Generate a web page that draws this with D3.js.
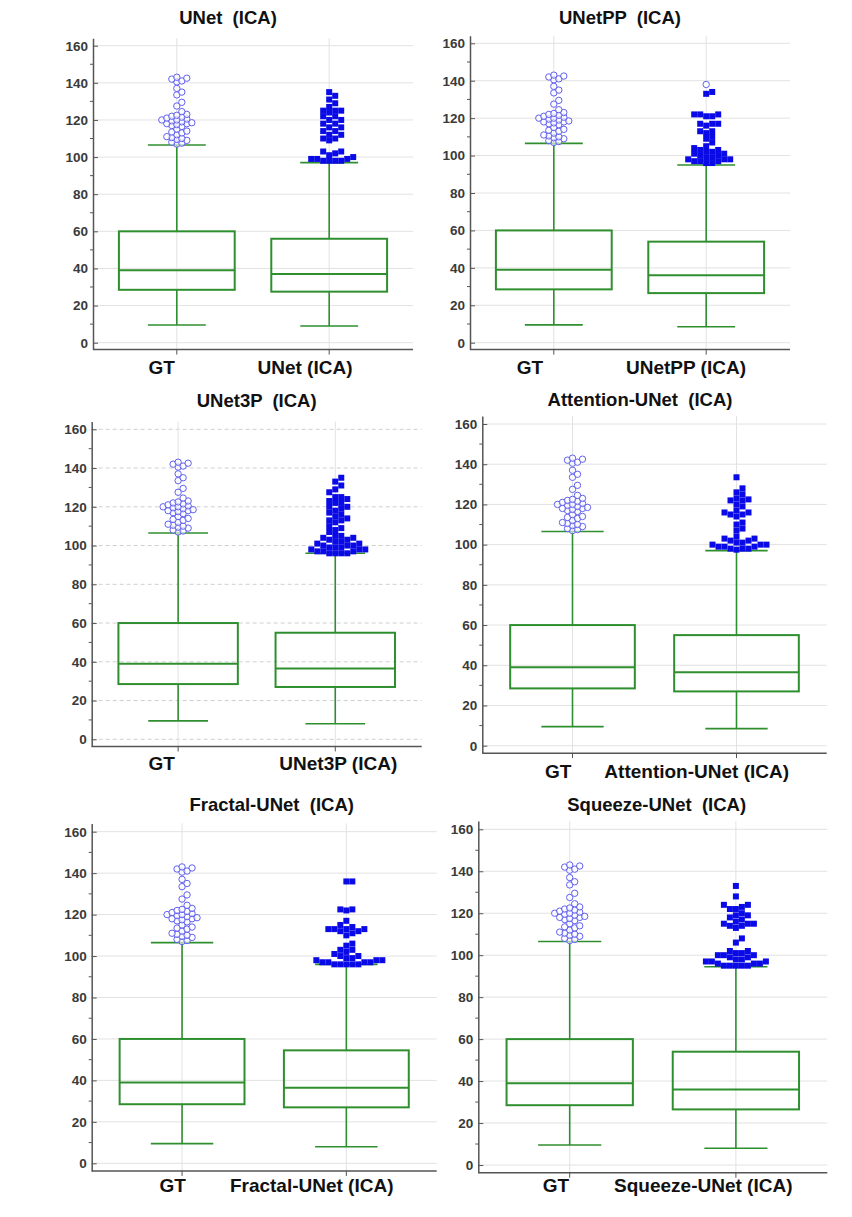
<!DOCTYPE html>
<html>
<head>
<meta charset="utf-8">
<script src="https://cdn.jsdelivr.net/npm/d3@7"></script>
<style>
  body { margin: 0; background: #fff; }
  text { font-family: "Liberation Sans", Arial, sans-serif; }
  .title, .xlab { white-space: pre; font-weight: bold; fill: #111; }
</style>
</head>
<body>
<svg id="chart" width="852" height="1217"></svg>
<script>
var models = ["UNet", "UNetPP", "UNet3P", "Attention-UNet", "Fractal-UNet", "Squeeze-UNet"];
var yTicks = [0, 20, 40, 60, 80, 100, 120, 140, 160];
var yMinor = [10, 30, 50, 70, 90, 110, 130, 150];

// [low whisker, Q1, median, Q3, high whisker]
var gtStats = [9.5, 28.5, 39, 60, 106.5];
var modelStats = [
  [9, 27.5, 37, 56, 97],
  [8.5, 26.5, 36, 54, 95],
  [8, 27, 36.5, 55, 96],
  [8.5, 27, 36.5, 55, 97],
  [8, 27, 36.5, 54.5, 96],
  [8, 26.5, 36, 54, 94.5]
];

var gtOutliers = [143, 142.5, 142, 141, 140.5, 137, 135, 133.5, 129.5, 127.5, 124.5, 123,
  122.5, 122, 121.5, 121, 120.5, 120, 120, 119.5, 119, 118.5, 118, 118, 117.5, 117,
  116.5, 115, 114, 113.5, 113, 112, 111, 110.5, 110, 109.5, 109, 108, 107.5, 107];

var modelOutliers = [
  [135, 133, 131, 129, 127, 125, 125, 125, 124, 122, 122, 120, 120, 118, 118, 116, 116,
   114, 114, 112, 112, 110, 110, 109, 103, 103, 102, 101, 100, 99, 99, 99, 98, 98, 98, 98],
  [134, 133, 122, 122, 122, 121, 121, 117, 117, 117, 116, 113, 113, 112, 110, 109, 107,
   105, 104, 103, 103, 102, 102, 101, 101, 100, 100, 99, 99, 98, 98, 98, 97, 97, 97, 96, 96],
  [135, 133, 131, 129, 127.5, 125, 125, 124, 123, 122, 122, 120, 120, 119, 118, 117, 116,
   115, 114, 113, 113, 112, 110, 109, 108, 107, 105, 105, 104, 104, 103, 103, 102, 102,
   101, 101, 100, 100, 100, 99, 99, 99, 98, 98, 98, 97, 97, 97, 96, 96, 96, 96],
  [133.5, 128, 126, 125, 123, 122.5, 122, 122, 120, 119, 117, 116, 116, 115, 115, 114,
   111, 110, 108, 107, 104, 103, 103, 102, 102, 101, 101, 100, 100, 100, 99, 99, 99,
   98, 98, 98, 97.5],
  [136, 136, 122.5, 122.5, 122, 117, 115, 114, 113, 113, 113, 113, 112, 112, 111, 110,
   106, 105, 103, 103, 102, 101, 100, 100, 99, 99, 98, 98, 98, 97, 97, 97, 97, 96, 96,
   96, 96, 96],
  [133, 128, 124, 124, 123, 122, 122, 120, 119, 119, 118, 117, 116, 115, 115, 115, 114,
   114, 113, 108, 106, 102, 102, 101, 101, 100, 100, 100, 99, 99, 98, 98, 97, 97, 97,
   96, 96, 96, 95, 95, 95, 95, 95]
];
var modelFar = [[], [138], [], [], [], []];

// panel placement on the page
var panels = [
  {x0: 93, x1: 413, y0: 342.7, y160: 45.7, tx: 228, ty: 18, lab: [[161.7, 367], [305, 367]]},
  {x0: 470, x1: 790, y0: 342.7, y160: 43.3, tx: 620, ty: 18, lab: [[530, 367], [686, 367]]},
  {x0: 91.7, x1: 421.7, y0: 739.3, y160: 429.3, tx: 256.7, ty: 401, lab: [[161.7, 763], [338.3, 763]], dashed: true},
  {x0: 482.3, x1: 826.7, y0: 745.7, y160: 424, tx: 640, ty: 400, lab: [[558.3, 771], [696.7, 771]]},
  {x0: 91.7, x1: 436.7, y0: 1163.3, y160: 831.7, tx: 271.7, ty: 805, lab: [[172.7, 1185], [311.7, 1185]]},
  {x0: 478.3, x1: 827.3, y0: 1165, y160: 829.3, tx: 656.7, ty: 805, lab: [[556, 1185], [703.3, 1185]]}
];

var GREEN = "#2f8f2f", AXIS = "#555";
var svg = d3.select("#chart");

// place repeated values side by side in slots so marks don't pile up
function dodge(vals, y, minDy) {
  var placed = [];
  vals.slice().sort(function(a, b) { return a - b; }).forEach(function(v) {
    var py = y(v);
    for (var k = 0; k < 40; k++) {
      var slot = k === 0 ? 0 : (k % 2 ? (k + 1) / 2 : -k / 2);
      var hit = placed.some(function(p) { return p.slot === slot && Math.abs(p.y - py) < minDy; });
      if (!hit) { placed.push({v: v, y: py, slot: slot}); break; }
    }
  });
  return placed;
}

panels.forEach(function(P, i) {
  var name = models[i];
  var ppu = (P.y0 - P.y160) / 160;
  var y = d3.scaleLinear().domain([-3.7, 164]).range([P.y0 + 3.7 * ppu, P.y0 - 164 * ppu]);
  var x = d3.scalePoint().domain(["GT", name]).range([P.x0, P.x1]).padding(0.55);
  var step = x.step();
  var g = svg.append("g").attr("class", "panel p" + i);

  // grid
  g.selectAll(".hgrid").data(yTicks).enter().append("line")
    .attr("x1", P.x0).attr("x2", P.x1)
    .attr("y1", function(d) { return y(d); }).attr("y2", function(d) { return y(d); })
    .attr("stroke", P.dashed ? "#cfcfcf" : "#e2e2e2")
    .attr("stroke-dasharray", P.dashed ? "4,3" : null);
  g.selectAll(".vgrid").data(x.domain()).enter().append("line")
    .attr("x1", function(d) { return x(d); }).attr("x2", function(d) { return x(d); })
    .attr("y1", y(164)).attr("y2", y(-3.7))
    .attr("stroke", "#e2e2e2");

  // y axis
  var ya = g.append("g").attr("transform", "translate(" + P.x0 + ",0)")
    .call(d3.axisLeft(y).tickValues(yTicks).tickSizeInner(-5).tickSizeOuter(0).tickPadding(5));
  ya.select(".domain").attr("stroke", AXIS).attr("stroke-width", 1.5);
  ya.selectAll(".tick line").attr("stroke", AXIS);
  ya.selectAll(".tick text").attr("font-size", 13.5).attr("font-weight", "bold").attr("fill", "#3a3a3a")
    .attr("font-family", "Liberation Sans, Arial, sans-serif");
  g.selectAll(".minor").data(yMinor).enter().append("line")
    .attr("x1", P.x0 - 3).attr("x2", P.x0)
    .attr("y1", function(d) { return y(d); }).attr("y2", function(d) { return y(d); })
    .attr("stroke", AXIS);

  // x axis
  var bottom = y(-3.7);
  g.append("line").attr("x1", P.x0).attr("x2", P.x1).attr("y1", bottom).attr("y2", bottom)
    .attr("stroke", AXIS).attr("stroke-width", 1.5);
  g.selectAll(".xt").data(x.domain()).enter().append("line")
    .attr("x1", function(d) { return x(d); }).attr("x2", function(d) { return x(d); })
    .attr("y1", bottom).attr("y2", bottom + 5).attr("stroke", AXIS);

  // boxes
  var stats = [{k: "GT", s: gtStats}, {k: name, s: modelStats[i]}];
  var bw = step * 0.76, cw = step * 0.38;
  stats.forEach(function(b) {
    var cx = x(b.k), s = b.s;
    g.append("line").attr("x1", cx).attr("x2", cx).attr("y1", y(s[0])).attr("y2", y(s[1]))
      .attr("stroke", GREEN).attr("stroke-width", 1.6);
    g.append("line").attr("x1", cx).attr("x2", cx).attr("y1", y(s[3])).attr("y2", y(s[4]))
      .attr("stroke", GREEN).attr("stroke-width", 1.6);
    [s[0], s[4]].forEach(function(v) {
      g.append("line").attr("x1", cx - cw / 2).attr("x2", cx + cw / 2).attr("y1", y(v)).attr("y2", y(v))
        .attr("stroke", GREEN).attr("stroke-width", 1.6);
    });
    g.append("rect").attr("x", cx - bw / 2).attr("width", bw)
      .attr("y", y(s[3])).attr("height", y(s[1]) - y(s[3]))
      .attr("fill", "none").attr("stroke", GREEN).attr("stroke-width", 2);
    g.append("line").attr("x1", cx - bw / 2).attr("x2", cx + bw / 2).attr("y1", y(s[2])).attr("y2", y(s[2]))
      .attr("stroke", GREEN).attr("stroke-width", 2);
  });

  // GT outliers: open circles, packed tightly
  var r = 3.2;
  g.selectAll(".gto").data(dodge(gtOutliers, y, 4.5)).enter().append("circle")
    .attr("cx", function(d) { return x("GT") + d.slot * 5; })
    .attr("cy", function(d) { return d.y; })
    .attr("r", r).attr("fill", "#fff").attr("fill-opacity", 0.6)
    .attr("stroke", "#6060f0").attr("stroke-width", 1);

  // model outliers: filled squares
  var sz = 6;
  g.selectAll(".mo").data(dodge(modelOutliers[i], y, sz * 0.9)).enter().append("rect")
    .attr("x", function(d) { return x(name) + d.slot * sz - sz / 2; })
    .attr("y", function(d) { return d.y - sz / 2; })
    .attr("width", sz).attr("height", sz).attr("fill", "#0a0ae6");
  g.selectAll(".mf").data(modelFar[i]).enter().append("circle")
    .attr("cx", x(name)).attr("cy", function(d) { return y(d); })
    .attr("r", r).attr("fill", "#fff").attr("stroke", "#6060f0").attr("stroke-width", 1);

  // texts
  g.append("text").attr("class", "title").attr("x", P.tx).attr("y", P.ty).attr("dy", "0.35em")
    .attr("text-anchor", "middle").attr("font-size", 18.5).text(name + "  (ICA)");
  g.selectAll(".xlab").data(x.domain()).enter().append("text").attr("class", "xlab")
    .attr("x", function(d, j) { return P.lab[j][0]; })
    .attr("y", function(d, j) { return P.lab[j][1]; })
    .attr("dy", "0.35em").attr("text-anchor", "middle").attr("font-size", 19)
    .text(function(d) { return d === "GT" ? "GT" : d + " (ICA)"; });
});
</script>
</body>
</html>
